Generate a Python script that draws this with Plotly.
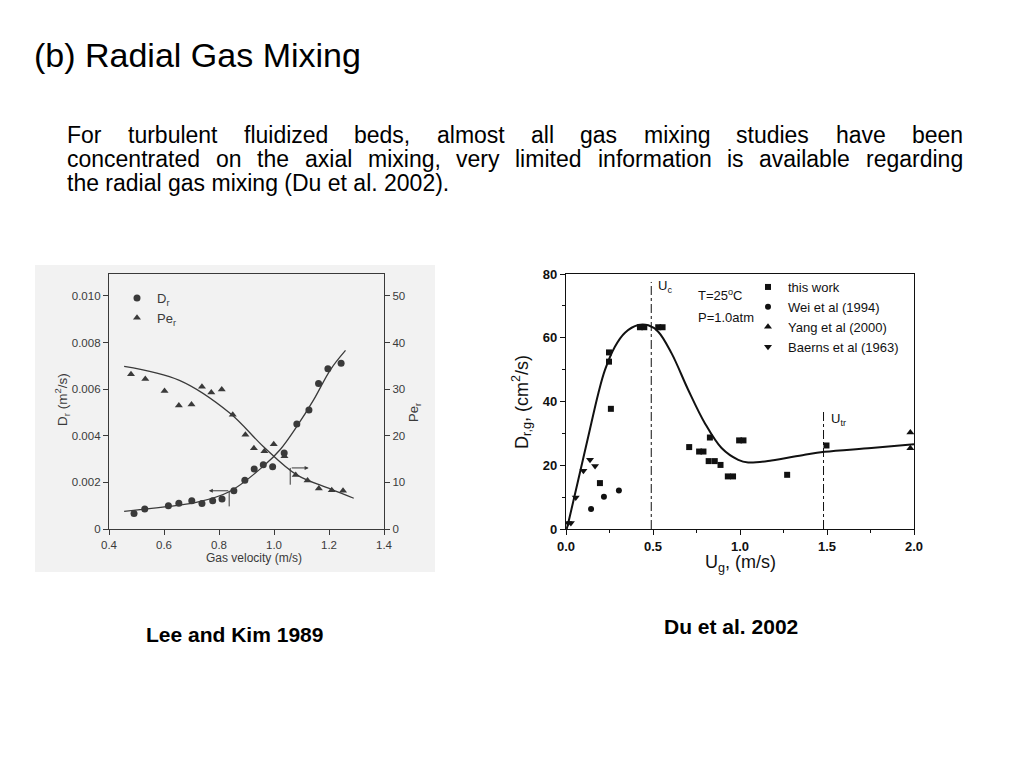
import plotly.graph_objects as go

W, H = 1024, 768


def px(x):
    return x / W


def py(y):
    return 1 - y / H


# ---------------- Left chart: Lee and Kim 1989 ----------------
lk_dr_u = [0.491, 0.530, 0.616, 0.654, 0.701, 0.738, 0.777, 0.811, 0.854, 0.894,
           0.928, 0.961, 0.995, 1.037, 1.083, 1.127, 1.162, 1.196, 1.244]
lk_dr = [0.00066, 0.00086, 0.00100, 0.00110, 0.00121, 0.00109, 0.00121, 0.00129,
         0.00164, 0.00209, 0.00257, 0.00276, 0.00267, 0.00326, 0.00451, 0.00511,
         0.00624, 0.00687, 0.00711]
lk_pe_u = [0.480, 0.532, 0.602, 0.654, 0.700, 0.738, 0.772, 0.810, 0.850, 0.896,
           0.927, 0.965, 0.999, 1.038, 1.079, 1.122, 1.163, 1.210, 1.251]
lk_pe = [33.2, 32.2, 29.6, 26.5, 26.7, 30.5, 29.3, 29.9, 24.5, 20.2,
         17.3, 16.7, 18.2, 15.6, 11.6, 10.4, 8.7, 8.3, 8.2]
lk_dr_fit_u = [0.455, 0.595, 0.717, 0.839, 0.961, 1.022, 1.083, 1.144, 1.205, 1.260]
lk_dr_fit = [0.00076, 0.00094, 0.00114, 0.00161, 0.00269, 0.00340, 0.00440,
             0.00554, 0.00683, 0.00766]
lk_pe_fit_u = [0.455, 0.656, 0.839, 0.961, 1.083, 1.205, 1.290]
lk_pe_fit = [34.9, 31.9, 24.9, 17.7, 11.6, 8.6, 6.6]
lk_x_ticks = [0.4, 0.6, 0.8, 1.0, 1.2, 1.4]
lk_x_labels = ["0.4", "0.6", "0.8", "1.0", "1.2", "1.4"]
lk_y_ticks = [0, 0.002, 0.004, 0.006, 0.008, 0.010]
lk_y_labels = ["0", "0.002", "0.004", "0.006", "0.008", "0.010"]
lk_y2_ticks = [0, 10, 20, 30, 40, 50]

# ---------------- Right chart: Du et al. 2002 ----------------
du_this_u = [0.247, 0.247, 0.258, 0.195, 0.425, 0.450, 0.530, 0.555, 0.708, 0.765,
             0.790, 0.827, 0.820, 0.855, 0.888, 0.930, 0.960, 0.995, 1.020, 1.271, 1.497]
du_this = [55.4, 52.5, 37.7, 14.4, 63.3, 63.3, 63.3, 63.3, 25.7, 24.3,
           24.3, 28.7, 21.3, 21.3, 20.1, 16.5, 16.5, 27.8, 27.8, 17.0, 26.2]
du_wei_u = [0.144, 0.218, 0.304]
du_wei = [6.3, 10.1, 12.1]
du_yang_u = [1.979, 1.979]
du_yang = [30.3, 25.3]
du_baerns_u = [0.012, 0.028, 0.056, 0.100, 0.138, 0.167]
du_baerns = [1.9, 1.9, 9.9, 18.3, 21.7, 19.8]
du_fit_u = [0.004, 0.013, 0.071, 0.128, 0.186, 0.224, 0.281, 0.339, 0.415, 0.473,
            0.530, 0.607, 0.702, 0.798, 0.894, 0.990, 1.047, 1.181, 1.372, 1.487,
            1.755, 2.000]
du_fit = [0.0, 1.9, 15.5, 29.0, 42.6, 49.9, 57.2, 61.6, 64.0, 63.9,
          61.9, 55.1, 43.7, 33.2, 25.4, 21.7, 20.9, 21.5, 23.3, 24.2,
          25.4, 26.6]
du_uc = 0.49
du_uc_top = 77.5
du_utr = 1.48
du_utr_top = 37.0
du_x_ticks = [0.0, 0.5, 1.0, 1.5, 2.0]
du_x_labels = ["0.0", "0.5", "1.0", "1.5", "2.0"]
du_y_ticks = [0, 20, 40, 60, 80]

INK_L = "#3a3a3a"
INK_R = "#111111"
FONT_L = "Liberation Sans"
FONT_R = "Liberation Sans"

fig = go.Figure()

# Left chart traces
fig.add_trace(go.Scatter(x=lk_dr_fit_u, y=lk_dr_fit, mode="lines",
                         line=dict(color=INK_L, width=1.3, shape="spline"),
                         showlegend=False, xaxis="x", yaxis="y", hoverinfo="skip"))
fig.add_trace(go.Scatter(x=lk_pe_fit_u, y=lk_pe_fit, mode="lines",
                         line=dict(color=INK_L, width=1.3, shape="spline"),
                         showlegend=False, xaxis="x", yaxis="y2", hoverinfo="skip"))
fig.add_trace(go.Scatter(x=lk_dr_u, y=lk_dr, mode="markers", name="D<sub>r</sub>",
                         marker=dict(symbol="circle", size=7, color=INK_L),
                         xaxis="x", yaxis="y", legend="legend"))
fig.add_trace(go.Scatter(x=lk_pe_u, y=lk_pe, mode="markers", name="Pe<sub>r</sub>",
                         marker=dict(symbol="triangle-up", size=7, color=INK_L),
                         xaxis="x", yaxis="y2", legend="legend"))

# Right chart traces
fig.add_trace(go.Scatter(x=[du_uc, du_uc], y=[0, du_uc_top], mode="lines",
                         line=dict(color=INK_R, width=1, dash="dashdot"),
                         showlegend=False, xaxis="x3", yaxis="y3", hoverinfo="skip"))
fig.add_trace(go.Scatter(x=[du_utr, du_utr], y=[0, du_utr_top], mode="lines",
                         line=dict(color=INK_R, width=1, dash="dashdot"),
                         showlegend=False, xaxis="x3", yaxis="y3", hoverinfo="skip"))
fig.add_trace(go.Scatter(x=du_fit_u, y=du_fit, mode="lines",
                         line=dict(color=INK_R, width=2, shape="spline"),
                         showlegend=False, xaxis="x3", yaxis="y3", hoverinfo="skip"))
fig.add_trace(go.Scatter(x=du_this_u, y=du_this, mode="markers", name="this work",
                         marker=dict(symbol="square", size=6, color=INK_R),
                         xaxis="x3", yaxis="y3", legend="legend2"))
fig.add_trace(go.Scatter(x=du_wei_u, y=du_wei, mode="markers", name="Wei et al (1994)",
                         marker=dict(symbol="circle", size=6, color=INK_R),
                         xaxis="x3", yaxis="y3", legend="legend2"))
fig.add_trace(go.Scatter(x=du_yang_u, y=du_yang, mode="markers", name="Yang et al (2000)",
                         marker=dict(symbol="triangle-up", size=7, color=INK_R),
                         xaxis="x3", yaxis="y3", legend="legend2"))
fig.add_trace(go.Scatter(x=du_baerns_u, y=du_baerns, mode="markers", name="Baerns et al (1963)",
                         marker=dict(symbol="triangle-down", size=7, color=INK_R),
                         xaxis="x3", yaxis="y3", legend="legend2"))

axis_y_dom = [py(529), py(274)]
common_l = dict(showgrid=False, zeroline=False, showline=True, linecolor=INK_L,
                linewidth=1.3, ticks="outside", ticklen=5, tickcolor=INK_L,
                automargin=False,
                tickfont=dict(family=FONT_L, size=11.5, color=INK_L))
common_r = dict(showgrid=False, zeroline=False, showline=True, linecolor=INK_R,
                linewidth=1.2, ticks="outside", ticklen=5, tickcolor=INK_R,
                automargin=False,
                tickfont=dict(family=FONT_R, size=13, color=INK_R, weight="bold"))

annotations = []


def add_text(x, y, text, size, xanchor="left", yanchor="middle", bold=False,
             family="Liberation Sans", color="#000000", angle=0):
    annotations.append(dict(
        x=px(x), y=py(y), xref="paper", yref="paper", text=text, showarrow=False,
        xanchor=xanchor, yanchor=yanchor, textangle=angle, borderpad=0,
        font=dict(family=family, size=size, color=color,
                  weight="bold" if bold else "normal")))


# Title
add_text(33, 55, "(b) Radial Gas Mixing", 34)

# Justified paragraph: word positions computed from Arial/Liberation metrics
ARIAL = {' ': 278, ',': 278, '.': 278, '(': 333, ')': 333, 'a': 556, 'b': 556,
         'c': 500, 'd': 556, 'e': 556, 'f': 278, 'g': 556, 'h': 556, 'i': 222,
         'j': 222, 'k': 500, 'l': 222, 'm': 833, 'n': 556, 'o': 556, 'p': 556,
         'q': 556, 'r': 333, 's': 500, 't': 278, 'u': 556, 'v': 500, 'w': 722,
         'x': 500, 'y': 500, 'z': 500, 'F': 611, 'D': 722, '0': 556, '1': 556,
         '2': 556}
PARA_SIZE = 23
para_lines = [
    "For turbulent fluidized beds, almost all gas mixing studies have been",
    "concentrated on the axial mixing, very limited information is available regarding",
    "the radial gas mixing (Du et al. 2002).",
]
para_y = [135, 159, 183]
left_x, right_x = 66, 962
for i, line in enumerate(para_lines):
    if i < len(para_lines) - 1:
        words = line.split(" ")
        widths = [sum(ARIAL.get(c, 556) for c in w) / 1000 * PARA_SIZE for w in words]
        gap = (right_x - left_x - sum(widths)) / (len(words) - 1)
        cx = left_x
        for w, wd in zip(words, widths):
            add_text(cx, para_y[i], w, PARA_SIZE)
            cx += wd + gap
    else:
        add_text(left_x, para_y[i], line, PARA_SIZE)

# Captions
add_text(234, 634, "Lee and Kim 1989", 21, xanchor="center", bold=True)
add_text(731, 626, "Du et al. 2002", 21, xanchor="center", bold=True)

# Left chart axis titles
add_text(62, 400, "D<sub>r</sub> (m<sup>2</sup>/s)", 13.5, xanchor="center",
         family=FONT_L, color=INK_L, angle=-90)
add_text(414, 413, "Pe<sub>r</sub>", 13, xanchor="center",
         family=FONT_L, color=INK_L, angle=-90)
add_text(254, 558, "Gas velocity (m/s)", 12, xanchor="center",
         family=FONT_L, color=INK_L)

# Right chart axis titles
add_text(521, 402, "D<sub>r,g</sub>, (cm<sup>2</sup>/s)", 18, xanchor="center",
         family=FONT_R, color=INK_R, angle=-90)
add_text(740, 563, "U<sub>g</sub>, (m/s)", 18, xanchor="center",
         family=FONT_R, color=INK_R)
add_text(697, 295, "T=25<sup>o</sup>C", 13, family=FONT_R, color=INK_R)
add_text(697, 317, "P=1.0atm", 13, family=FONT_R, color=INK_R)

# Data-space labels for critical velocities
annotations.append(dict(x=du_uc + 0.03, y=76, xref="x3", yref="y3",
                        text="U<sub>c</sub>", showarrow=False, xanchor="left",
                        font=dict(family=FONT_R, size=13, color=INK_R)))
annotations.append(dict(x=du_utr + 0.03, y=34.5, xref="x3", yref="y3",
                        text="U<sub>tr</sub>", showarrow=False, xanchor="left",
                        font=dict(family=FONT_R, size=13, color=INK_R)))

# Small arrows in the Lee & Kim chart
arrow_l = dict(x=0.763, y=0.00164, ax=0.839, ay=0.00164)
arrow_r = dict(x=1.126, y=13.1, ax=1.059, ay=13.1)
annotations.append(dict(x=arrow_l["x"], y=arrow_l["y"], ax=arrow_l["ax"], ay=arrow_l["ay"],
                        xref="x", yref="y", axref="x", ayref="y", showarrow=True,
                        arrowhead=2, arrowsize=0.8, arrowwidth=1, arrowcolor=INK_L, text=""))
annotations.append(dict(x=arrow_r["x"], y=arrow_r["y"], ax=arrow_r["ax"], ay=arrow_r["ay"],
                        xref="x", yref="y2", axref="x", ayref="y2", showarrow=True,
                        arrowhead=2, arrowsize=0.8, arrowwidth=1, arrowcolor=INK_L, text=""))

shapes = [
    dict(type="rect", xref="paper", yref="paper", x0=px(35), x1=px(435),
         y0=py(572), y1=py(265), fillcolor="#f2f2f2", line=dict(width=0), layer="below"),
    dict(type="line", xref="x", yref="y", x0=0.837, x1=0.837, y0=0.00164, y1=0.00097,
         line=dict(color=INK_L, width=1)),
    dict(type="line", xref="x", yref="y2", x0=1.059, x1=1.059, y0=13.1, y1=9.5,
         line=dict(color=INK_L, width=1)),
]

fig.update_layout(
    width=W, height=H, margin=dict(l=0, r=0, t=0, b=0, pad=0, autoexpand=False),
    paper_bgcolor="white", plot_bgcolor="rgba(0,0,0,0)",
    xaxis=dict(domain=[px(109), px(384)], range=[0.4, 1.4], anchor="y",
               tickvals=lk_x_ticks, ticktext=lk_x_labels, mirror=True, **common_l),
    yaxis=dict(domain=axis_y_dom, range=[0, 0.01094], anchor="x",
               tickvals=lk_y_ticks, ticktext=lk_y_labels, **common_l),
    yaxis2=dict(range=[0, 54.7], overlaying="y", side="right", anchor="x",
                tickvals=lk_y2_ticks, **common_l),
    xaxis3=dict(domain=[px(566), px(914)], range=[0, 2], anchor="y3",
                tickvals=du_x_ticks, ticktext=du_x_labels, mirror=True,
                minor=dict(dtick=0.25, ticks="outside", ticklen=3, tickcolor=INK_R),
                **common_r),
    yaxis3=dict(domain=axis_y_dom, range=[0, 80], anchor="x3", mirror=True,
                tickvals=du_y_ticks,
                minor=dict(dtick=10, ticks="outside", ticklen=3, tickcolor=INK_R),
                **common_r),
    legend=dict(x=px(117), y=py(283), xanchor="left", yanchor="top",
                bgcolor="rgba(0,0,0,0)", font=dict(family=FONT_L, size=13, color=INK_L)),
    legend2=dict(x=px(748), y=py(272), xanchor="left", yanchor="top",
                 bgcolor="rgba(0,0,0,0)", font=dict(family=FONT_R, size=13, color=INK_R)),
    annotations=annotations,
    shapes=shapes,
)

fig.write_html("out.html", config={"displayModeBar": False},
               post_script="document.body.style.margin='0';")
